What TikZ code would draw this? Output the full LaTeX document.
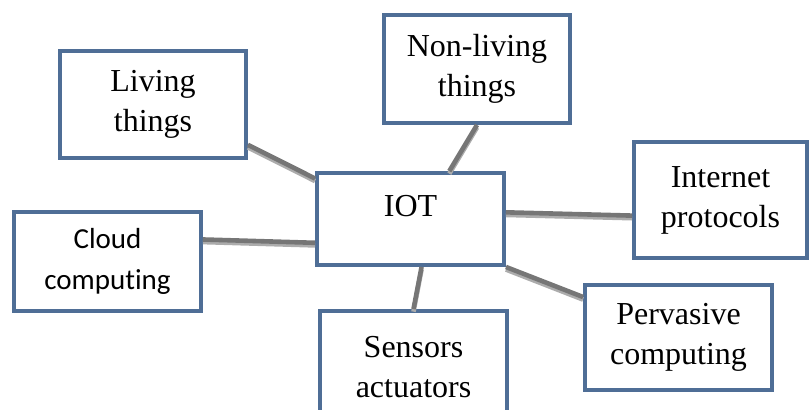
\documentclass[tikz,border=0pt]{standalone}
\usepackage{fontspec}
\setmainfont{Liberation Serif}
\newfontfamily\calibrifont[Ligatures=NoCommon]{Carlito}
\definecolor{boxblue}{RGB}{79,110,150}
\definecolor{linkdark}{RGB}{118,118,118}
\definecolor{linklight}{RGB}{172,172,172}
\tikzstyle{box} = [rectangle, draw=boxblue, line width=2.2pt, fill=white, align=center, inner sep=0pt, font=\fontsize{16}{20}\selectfont]
\tikzstyle{link} = [line width=2.3pt, draw=linkdark, preaction={draw=linklight, line width=2.3pt, transform canvas={yshift=-1.3pt}}]

\begin{document}
\begin{tikzpicture}[x=0.5pt, y=-0.5pt]
	\useasboundingbox (0, 0) rectangle (809, 409);
	\node (iot) at (410.5, 219) [box, minimum width=93.25pt, minimum height=45.75pt, text height=10.6pt, text depth=13.6pt] {IOT};
	\node (living) at (153, 104.5) [box, minimum width=92.75pt, minimum height=53.25pt] {Living\\things};
	\node (nonliving) at (477, 69) [box, minimum width=92.75pt, minimum height=53.75pt] {Non-living\\things};
	\node (internet) at (720.5, 200) [box, minimum width=86.25pt, minimum height=57.75pt] {Internet\\protocols};
	\node (cloud) at (107.5, 261.5) [box, minimum width=93.25pt, minimum height=49.25pt, font=\calibrifont\fontsize{14.5}{20.5}\selectfont] {Cloud\\computing};
	\node (sensors) at (413.5, 367) [box, minimum width=93.25pt, minimum height=55.75pt] {Sensors\\actuators};
	\node (pervasive) at (678.5, 337.5) [box, minimum width=93.25pt, minimum height=52.25pt] {Pervasive\\computing};
		%\draw (iot) -- (living);
	\draw [link] (living.-23) -- (iot.157);
	\draw [link] (nonliving.south) -- (iot.51);
	\draw [link] (cloud.13) -- (iot.194);
	\draw [link] (iot.4) -- (internet.190);
	\draw [link] (iot.south east) -- (pervasive.157);
	\draw [link] (iot.-77) -- (sensors.north);
\end{tikzpicture}
\end{document}
